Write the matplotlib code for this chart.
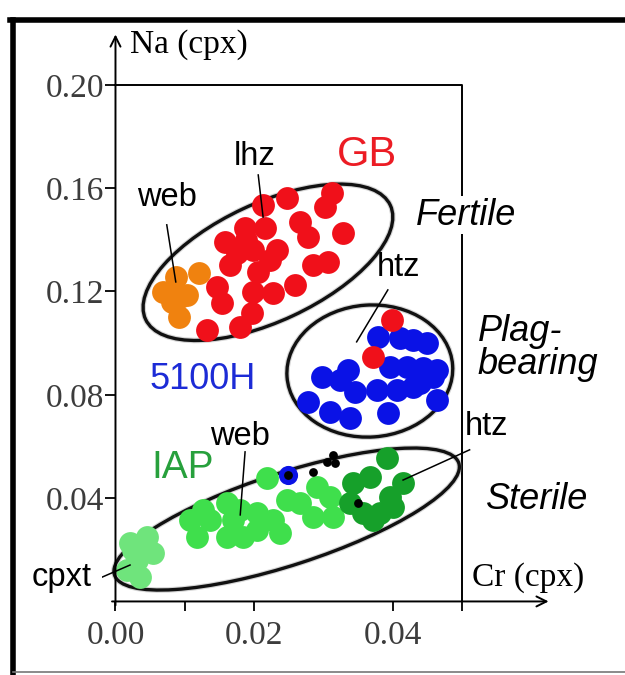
import matplotlib
matplotlib.use("Agg")
from matplotlib import pyplot as plt
from matplotlib.patches import Ellipse
from matplotlib.lines import Line2D
from matplotlib.transforms import ScaledTranslation

# Cr (cpx) / Na (cpx) values, one pair of lists per group
gb_lhz_cr = [0.0213, 0.0247, 0.0312, 0.0302, 0.0266, 0.0278, 0.0329, 0.0187, 0.0216,
             0.0158, 0.0199, 0.0175, 0.0223, 0.0285, 0.0307, 0.0165, 0.0206, 0.0146,
             0.0199, 0.0228, 0.0259, 0.0153, 0.0197, 0.0132, 0.0180, 0.0189, 0.0233]
gb_lhz_na = [0.1533, 0.1561, 0.1580, 0.1528, 0.1470, 0.1412, 0.1425, 0.1445, 0.1445,
             0.1393, 0.1361, 0.1348, 0.1322, 0.1303, 0.1316, 0.1303, 0.1277, 0.1219,
             0.1199, 0.1193, 0.1225, 0.1154, 0.1116, 0.1051, 0.1064, 0.1400, 0.1361]

gb_web_cr = [0.0120, 0.0088, 0.0069, 0.0103, 0.0081, 0.0091, 0.0093]
gb_web_na = [0.1271, 0.1257, 0.1199, 0.1187, 0.1161, 0.1103, 0.1180]

gb_htz_cr = [0.0399, 0.0372]
gb_htz_na = [0.1090, 0.0948]

h5100_cr = [0.0379, 0.0411, 0.0429, 0.0450, 0.0396, 0.0421, 0.0444, 0.0464, 0.0458,
            0.0298, 0.0336, 0.0324, 0.0346, 0.0377, 0.0406, 0.0429, 0.0439, 0.0278,
            0.0310, 0.0338, 0.0393, 0.0464]
h5100_na = [0.1024, 0.1020, 0.1012, 0.1001, 0.0908, 0.0908, 0.0904, 0.0896, 0.0869,
            0.0869, 0.0896, 0.0857, 0.0811, 0.0819, 0.0819, 0.0830, 0.0846, 0.0773,
            0.0734, 0.0711, 0.0730, 0.0780]

iap_web_cr = [0.0219, 0.0291, 0.0310, 0.0314, 0.0285, 0.0266, 0.0248, 0.0227, 0.0237,
              0.0204, 0.0184, 0.0204, 0.0161, 0.0170, 0.0161, 0.0136, 0.0118, 0.0108,
              0.0126, 0.0180]
iap_web_na = [0.0478, 0.0443, 0.0405, 0.0327, 0.0327, 0.0381, 0.0393, 0.0315, 0.0265,
              0.0277, 0.0250, 0.0343, 0.0381, 0.0315, 0.0250, 0.0315, 0.0250, 0.0315,
              0.0354, 0.0354]

iap_htz_cr = [0.0392, 0.0367, 0.0343, 0.0415, 0.0396, 0.0338, 0.0382, 0.0357, 0.0372, 0.0400]
iap_htz_na = [0.0556, 0.0482, 0.0459, 0.0459, 0.0405, 0.0381, 0.0343, 0.0343, 0.0315, 0.0366]

iap_cpxt_cr = [0.0046, 0.0021, 0.0054, 0.0031, 0.0035, 0.0017, 0.0025]
iap_cpxt_na = [0.0250, 0.0226, 0.0188, 0.0161, 0.0095, 0.0122, 0.0199]

iap_blue_cr = [0.0249]
iap_blue_na = [0.0490]

small_cr = [0.0314, 0.0305, 0.0317, 0.0285, 0.0350, 0.0249]
small_na = [0.0567, 0.0540, 0.0536, 0.0501, 0.0381, 0.0490]

x_ticks = [0.00, 0.02, 0.04]
x_minor = [0.01, 0.05]
y_ticks = [0.04, 0.08, 0.12, 0.16, 0.20]

serif = "Liberation Serif"
sans = "Liberation Sans"
plt.rcParams["font.family"] = serif

fig = plt.figure(figsize=(6.25, 6.75), dpi=100)
ax = fig.add_axes([0.1626, 0.0707, 0.7318, 0.8993])
ax.set_xlim(-0.002, 0.064)
ax.set_ylim(-0.01, 0.225)
ax.patch.set_visible(False)


def ring(cx, cy, w, h, ang):
    # ellipse sized in inches, centred on a data point
    tr = fig.dpi_scale_trans + ScaledTranslation(cx, cy, ax.transData)
    ax.add_patch(Ellipse((0, 0), w, h, angle=ang, transform=tr, fill=False,
                         ec="#888888", lw=4, alpha=0.35, zorder=1))
    ax.add_patch(Ellipse((0, 0), w, h, angle=ang, transform=tr, fill=False,
                         ec="#111111", lw=2.4, zorder=1.1))


ring(0.0220, 0.1313, 2.70, 1.18, 25)
ring(0.0367, 0.0892, 1.66, 1.32, 4)
ring(0.0247, 0.0319, 3.62, 0.92, 18)

s_big = 270
ax.scatter(gb_lhz_cr, gb_lhz_na, s=s_big, c="#f0101a", lw=0, zorder=3)
ax.scatter(gb_web_cr, gb_web_na, s=s_big, c="#f0820f", lw=0, zorder=3)
ax.scatter(h5100_cr, h5100_na, s=s_big, c="#0a12e6", lw=0, zorder=3)
ax.scatter(gb_htz_cr, gb_htz_na, s=s_big, c="#f0101a", lw=0, zorder=3.5)
ax.scatter(iap_cpxt_cr, iap_cpxt_na, s=s_big, c="#6fe47c", lw=0, zorder=3)
ax.scatter(iap_web_cr, iap_web_na, s=s_big, c="#3fdf4c", lw=0, zorder=3)
ax.scatter(iap_htz_cr, iap_htz_na, s=s_big, c="#16a02a", lw=0, zorder=3)
ax.scatter(iap_blue_cr, iap_blue_na, s=190, c="#0a12e6", lw=0, zorder=3.5)
ax.scatter(small_cr, small_na, s=40, c="black", lw=0, zorder=4)

# frame lines at 0.20 and 0.05
ax.plot([0, 0.05, 0.05], [0.20, 0.20, 0], color="black", lw=1.4, zorder=0.5)

# axes drawn as arrows; spines only carry the ticks
for side in ["top", "right", "left", "bottom"]:
    ax.spines[side].set_visible(False)
ax.spines["left"].set_position(("data", 0))
ax.spines["bottom"].set_position(("data", 0))
ax.annotate("", xy=(0, 0.2195), xytext=(0, -0.0015),
            arrowprops=dict(arrowstyle="->", lw=1.4, color="black",
                            shrinkA=0, shrinkB=0, mutation_scale=18))
ax.annotate("", xy=(0.0625, 0), xytext=(-0.0005, 0),
            arrowprops=dict(arrowstyle="->", lw=1.4, color="black",
                            shrinkA=0, shrinkB=0, mutation_scale=18))

ax.set_xticks(x_ticks)
ax.set_xticks(x_minor, minor=True)
ax.set_yticks(y_ticks)
ax.set_xticklabels(["%.2f" % v for v in x_ticks])
ax.set_yticklabels(["%.2f" % v for v in y_ticks])
ax.tick_params(axis="both", which="both", direction="out", length=7, width=1.3,
               color="black", labelcolor="#3c3c3c", labelsize=24)
ax.tick_params(axis="x", which="major", pad=7)
ax.tick_params(axis="y", which="major", pad=1)

ax.text(0.0021, 0.2155, "Na (cpx)", fontsize=24, va="center", ha="left")
ax.text(0.0514, 0.0091, "Cr (cpx)", fontsize=24, va="center", ha="left")

lab_kw = dict(family=sans, fontsize=23.5, ha="center", va="center", zorder=5)
ax.text(0.0201, 0.1721, "lhz", **lab_kw)
ax.text(0.0074, 0.1562, "web", **lab_kw)
ax.text(0.0409, 0.1291, "htz", **lab_kw)
ax.text(0.0180, 0.0637, "web", **lab_kw)
ax.text(0.0536, 0.0676, "htz", **lab_kw)
ax.text(-0.0077, 0.0091, "cpxt", **lab_kw)

ax.text(0.0363, 0.1729, "GB", family=sans, fontsize=30, color="#ec1c24",
        ha="center", va="center")
ax.text(0.0126, 0.0858, "5100H", family=sans, fontsize=26, color="#1c2bd6",
        ha="center", va="center")
ax.text(0.0097, 0.0517, "IAP", family=sans, fontsize=28, color="#27a03c",
        ha="center", va="center")

ax.text(0.0506, 0.1496, "Fertile", family=sans, style="italic", fontsize=26,
        ha="center", va="center", zorder=6,
        bbox=dict(fc="white", ec="none", pad=1))
ax.text(0.0523, 0.0981, "Plag-\nbearing", family=sans, style="italic", fontsize=26,
        ha="left", va="center", linespacing=0.95)
ax.text(0.0608, 0.0393, "Sterile", family=sans, style="italic", fontsize=26,
        ha="center", va="center")

# leader lines
lead = dict(color="black", lw=1.1, zorder=5)
ax.plot([0.0206, 0.0213], [0.1651, 0.1488], **lead)
ax.plot([0.0074, 0.0087], [0.1458, 0.1237], **lead)
ax.plot([0.0393, 0.0348], [0.1206, 0.1005], **lead)
ax.plot([0.0187, 0.0180], [0.0579, 0.0335], **lead)
ax.plot([0.0511, 0.0415], [0.0587, 0.0470], **lead)
ax.plot([-0.0022, 0.0021], [0.0091, 0.0141], **lead)

# outer border of the panel
fig.add_artist(Line2D([13 / 625, 13 / 625], [0, 655 / 675], color="black", lw=4))
fig.add_artist(Line2D([10 / 625, 1], [655 / 675, 655 / 675], color="black", lw=4))
fig.add_artist(Line2D([13 / 625, 1], [3 / 675, 3 / 675], color="#777777", lw=1.2))

plt.savefig("out.png", dpi=100)
